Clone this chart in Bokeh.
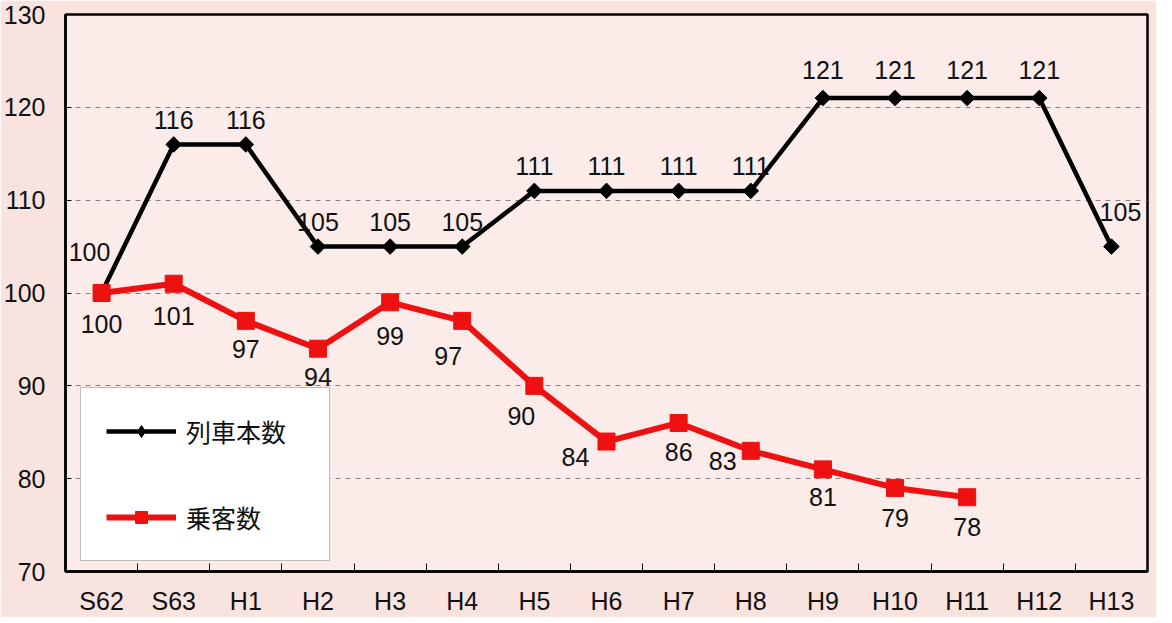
import math
from bokeh.plotting import figure
from bokeh.models import (ColumnDataSource, Range1d, FixedTicker, Legend, LegendItem)
from bokeh.core.properties import value
from bokeh.embed import file_html
from bokeh.resources import INLINE

# ---- data ----
categories = ["S62", "S63", "H1", "H2", "H3", "H4", "H5", "H6", "H7", "H8",
              "H9", "H10", "H11", "H12", "H13"]
trains = [100, 116, 116, 105, 105, 105, 111, 111, 111, 111, 121, 121, 121, 121, 105]
passengers = [100, 101, 97, 94, 99, 97, 90, 84, 86, 83, 81, 79, 78]
y_ticks = [70, 80, 90, 100, 110, 120, 130]
series_names = ["列車本数", "乗客数"]

# label offsets in screen pixels (positions only)
train_dx = [-12, 0, 0, 0, 0, 0, 0, 0, 0, 0, 0, 0, 0, 0, 9]
train_dy = [-41, -24, -24, -25, -25, -25, -25, -25, -25, -25, -28, -28, -28, -28, -35]
pass_dx = [0, 0, 0, 0, 0, -14, -13, -31, 0, -28, 0, 0, 0]
pass_dy = [31, 32, 28, 28, 34, 35, 30, 15, 29, 10, 28, 30, 30]

OUTER_BG = "#f8e3df"
INNER_BG = "#fcece9"
RED = "#ee1111"
NUM_FONT = "Liberation Sans"
CJK_FONT = "Noto Sans CJK JP"
FS = "25px"

xs_t = list(range(len(trains)))
xs_p = list(range(len(passengers)))

src_t = ColumnDataSource(dict(x=xs_t, y=trains, lab=[str(v) for v in trains],
                              dx=train_dx, dy=train_dy))
src_p = ColumnDataSource(dict(x=xs_p, y=passengers, lab=[str(v) for v in passengers],
                              dx=pass_dx, dy=pass_dy))

p = figure(width=1156, height=606, output_backend="svg", toolbar_location=None,
           x_range=Range1d(-0.5, len(categories) - 0.5), y_range=Range1d(70, 130),
           min_border_left=65, min_border_right=9, min_border_top=14, min_border_bottom=35)
p.frame_width = 1082
p.frame_height = 557

p.background_fill_color = INNER_BG
p.border_fill_color = OUTER_BG
p.outline_line_color = "black"
p.outline_line_width = 2.5

# grid
p.xgrid.visible = False
p.ygrid.ticker = FixedTicker(ticks=y_ticks)
p.ygrid.grid_line_color = "#8a8080"
p.ygrid.grid_line_dash = "5 5"
p.ygrid.grid_line_width = 1.2

# x axis
xa = p.xaxis[0]
xa.ticker = FixedTicker(ticks=xs_t, minor_ticks=[i + 0.5 for i in range(len(categories) - 1)])
xa.major_label_overrides = {i: c for i, c in enumerate(categories)}
xa.major_tick_line_color = None
xa.minor_tick_in = 8
xa.minor_tick_out = 0
xa.minor_tick_line_color = "black"
xa.minor_tick_line_width = 1
xa.axis_line_color = "black"
xa.axis_line_width = 2.5
xa.major_label_text_font = NUM_FONT
xa.major_label_text_font_size = FS
xa.major_label_text_color = "#111111"
xa.major_label_standoff = 9

# y axis
ya = p.yaxis[0]
ya.ticker = FixedTicker(ticks=y_ticks, minor_ticks=[])
ya.major_tick_in = 6
ya.major_tick_out = 0
ya.major_tick_line_color = "black"
ya.axis_line_color = "black"
ya.axis_line_width = 2.5
ya.major_label_text_font = NUM_FONT
ya.major_label_text_font_size = FS
ya.major_label_text_color = "#111111"
ya.major_label_standoff = 20

# series
l1 = p.line("x", "y", source=src_t, line_color="black", line_width=4.5)
m1 = p.scatter("x", "y", source=src_t, marker="square", size=11, angle=math.pi / 4,
               fill_color="black", line_color="black")
l2 = p.line("x", "y", source=src_p, line_color=RED, line_width=6)
m2 = p.scatter("x", "y", source=src_p, marker="square", size=17,
               fill_color=RED, line_color=RED)

# legend-only diamond glyph (a single undrawn NaN point)
leg_src = ColumnDataSource(dict(x=[float("nan")], y=[float("nan")]))
m1_leg = p.scatter("x", "y", source=leg_src, marker="diamond", size=17,
                   fill_color="black", line_color="black")

# data labels
for src in (src_t, src_p):
    p.text("x", "y", text="lab", source=src, x_offset="dx", y_offset="dy",
           text_align="center", text_baseline="middle",
           text_font=value(NUM_FONT), text_font_size=FS, text_color="#111111")

legend = Legend(items=[LegendItem(label=series_names[0], renderers=[l1, m1_leg]),
                       LegendItem(label=series_names[1], renderers=[l2, m2])],
                location=(15, 10))
legend.background_fill_color = "white"
legend.background_fill_alpha = 1
legend.border_line_color = "#777777"
legend.border_line_width = 1.5
legend.padding = 25
legend.spacing = 50
legend.glyph_width = 70
legend.glyph_height = 30
legend.label_height = 30
legend.label_width = 118
legend.label_standoff = 10
legend.label_text_font = CJK_FONT
legend.label_text_font_size = FS
legend.label_text_color = "#111111"
legend.margin = 0
p.add_layout(legend, "center")

open("out.html", "w").write(file_html(p, INLINE))
